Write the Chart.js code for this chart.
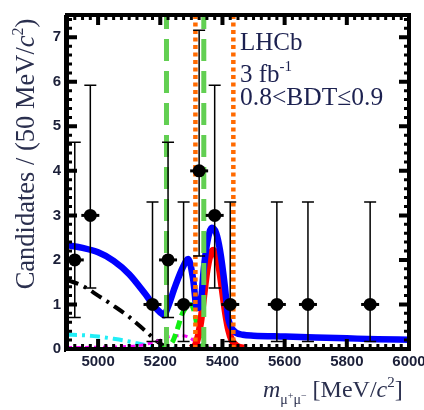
<!DOCTYPE html>
<html>
<head>
<meta charset="utf-8">
<script src="https://cdn.jsdelivr.net/npm/chart.js@4.4.0/dist/chart.umd.min.js"></script>
<style>
  html, body { margin: 0; padding: 0; background: #fff; }
  #wrap { width: 424px; height: 410px; }
</style>
</head>
<body>
<div id="wrap"><canvas id="massChart" width="424" height="410"></canvas></div>
<script>
// ------------------------------- Data -------------------------------------
const xRange = [4900, 6000];
const yRange = [0, 7.5];
const xTickValues = [5000, 5200, 5400, 5600, 5800, 6000];
const yTickValues = [0, 1, 2, 3, 4, 5, 6, 7];

// Data points (50 MeV bins) with Poisson errors
const binCenters = [4925, 4975, 5175, 5225, 5275, 5325, 5375, 5425, 5575, 5675, 5875];
const binCounts = [2, 3, 1, 2, 1, 4, 3, 1, 1, 1, 1];
const errLow = [0.71, 1.37, 0.17, 0.71, 0.17, 2.09, 1.37, 0.17, 0.17, 0.17, 0.17];
const errHigh = [4.64, 5.92, 3.30, 4.64, 3.30, 7.16, 5.92, 3.30, 3.30, 3.30, 3.30];

// Total fit (blue)
const fitMass = [4900, 4950, 5000, 5050, 5100, 5150, 5180, 5200, 5212, 5225, 5247, 5273, 5290,
  5305, 5318, 5328, 5340, 5350, 5366, 5380, 5392, 5408, 5418, 5434, 5466, 5500, 5600, 5700,
  5800, 5900, 6000];
const fitTotal = [2.33, 2.27, 2.17, 1.98, 1.68, 1.25, 0.97, 0.82, 0.76, 0.95, 1.39, 1.84, 2.02,
  1.6, 0.92, 0.95, 1.8, 2.35, 2.72, 2.6, 2.22, 1.39, 0.72, 0.43, 0.32, 0.3, 0.28, 0.26,
  0.24, 0.22, 0.21];

// Bs signal (red)
const bsMass = [5300, 5315, 5330, 5340, 5350, 5360, 5370, 5380, 5390, 5400, 5410, 5420, 5430, 5445, 5470];
const bsSignal = [0.02, 0.12, 0.6, 1.2, 1.75, 2.1, 2.22, 2.12, 1.8, 1.3, 0.8, 0.42, 0.2, 0.07, 0.02];

// B0 signal (green dashed)
const b0Mass = [5200, 5220, 5240, 5255, 5270, 5285, 5298, 5310, 5320, 5330, 5345, 5360];
const b0Signal = [0.01, 0.04, 0.17, 0.45, 0.78, 0.95, 1.0, 0.82, 0.45, 0.17, 0.04, 0.01];

// Peaking background (magenta dashed)
const hhMass = [4900, 5000, 5100, 5150, 5200, 5230, 5260, 5290, 5310, 5330, 5350, 5400, 5450];
const hhBkg = [0.03, 0.04, 0.06, 0.1, 0.2, 0.28, 0.3, 0.27, 0.18, 0.08, 0.03, 0.01, 0];

// Semileptonic background (cyan dash-dot)
const slMass = [4900, 4950, 5000, 5050, 5100, 5150, 5200, 5250];
const slBkg = [0.32, 0.31, 0.28, 0.23, 0.17, 0.09, 0.03, 0.01];

// Partially reconstructed background (black dash-dot)
const prMass = [4900, 4950, 5000, 5050, 5100, 5150, 5200, 5230];
const prBkg = [1.55, 1.42, 1.2, 0.97, 0.72, 0.42, 0.12, 0.02];

// Signal windows
const b0Window = [5220, 5340];
const bsWindow = [5313, 5435];

// ----------------------------- Utilities ----------------------------------
function toXY(xs, ys) {
  return xs.map((x, i) => ({ x, y: ys[i] }));
}
function vline(x) {
  return [{ x, y: yRange[0] }, { x, y: yRange[1] }];
}

const SERIF = '"Liberation Serif", "Times New Roman", serif';
const SANS = '"Liberation Sans", Arial, sans-serif';
const TXT = '#1c2150';

// draw a run of text pieces: { t, size, style, dy }
function drawRich(ctx, parts, x, y, align) {
  const fontOf = (p) => `${p.style || ''} ${p.size}px ${SERIF}`;
  let w = 0;
  parts.forEach((p) => { ctx.font = fontOf(p); w += ctx.measureText(p.t).width; });
  let cx = align === 'center' ? x - w / 2 : x;
  ctx.textAlign = 'left';
  ctx.textBaseline = 'alphabetic';
  parts.forEach((p) => {
    ctx.font = fontOf(p);
    ctx.fillText(p.t, cx, y + (p.dy || 0));
    cx += ctx.measureText(p.t).width;
  });
}

// ------------------------------ Plugin ------------------------------------
const rootStyle = {
  id: 'rootStyle',
  afterDatasetsDraw(chart) {
    const { ctx, scales: { x, y } } = chart;
    ctx.save();
    ctx.strokeStyle = '#000';
    ctx.lineWidth = 1.5;
    binCenters.forEach((m, i) => {
      const px = x.getPixelForValue(m);
      const pyLo = y.getPixelForValue(errLow[i]);
      const pyHi = y.getPixelForValue(errHigh[i]);
      const py = y.getPixelForValue(binCounts[i]);
      ctx.beginPath();
      ctx.moveTo(px, pyLo); ctx.lineTo(px, pyHi);
      ctx.moveTo(px - 6, pyLo); ctx.lineTo(px + 6, pyLo);
      ctx.moveTo(px - 6, pyHi); ctx.lineTo(px + 6, pyHi);
      ctx.stroke();
      ctx.lineWidth = 3;
      ctx.beginPath();
      ctx.moveTo(px - 9, py); ctx.lineTo(px + 9, py);
      ctx.stroke();
      ctx.lineWidth = 1.5;
    });
    ctx.restore();
  },
  afterDraw(chart) {
    const { ctx, chartArea: a, scales: { x, y } } = chart;
    ctx.save();
    ctx.strokeStyle = '#000';
    ctx.fillStyle = '#000';

    // inner ticks, x axis
    for (let m = xRange[0]; m <= xRange[1]; m += 25) {
      const px = x.getPixelForValue(m);
      const major = m % 200 === 0;
      const len = major ? 10 : 5;
      ctx.lineWidth = major ? 4 : 3;
      ctx.beginPath();
      ctx.moveTo(px, a.bottom); ctx.lineTo(px, a.bottom - len);
      ctx.moveTo(px, a.top); ctx.lineTo(px, a.top + len);
      ctx.stroke();
    }
    // inner ticks, y axis
    for (let k = 0; k <= 37; k++) {
      const v = k * 0.2;
      const py = y.getPixelForValue(v);
      const major = k % 5 === 0;
      const len = major ? 10 : 5;
      ctx.lineWidth = major ? 4 : 3;
      ctx.beginPath();
      ctx.moveTo(a.left, py); ctx.lineTo(a.left + len, py);
      ctx.moveTo(a.right, py); ctx.lineTo(a.right - len, py);
      ctx.stroke();
    }
    // frame
    ctx.lineWidth = 4;
    ctx.strokeRect(a.left, a.top, a.right - a.left, a.bottom - a.top);
    ctx.lineWidth = 2;
    ctx.beginPath();
    ctx.moveTo(a.left - 2, a.top); ctx.lineTo(a.left - 2, a.bottom + 3);
    ctx.stroke();

    // labels
    ctx.fillStyle = TXT;
    drawRich(ctx, [{ t: 'LHCb', size: 25 }], 240, 50);
    drawRich(ctx, [{ t: '3 fb', size: 25 }, { t: '-1', size: 15, dy: -11 }], 240, 82);
    drawRich(ctx, [{ t: '0.8<BDT\u22640.9', size: 25.5 }], 240, 105);

    // x title
    ctx.fillStyle = '#2a2f4e';
    drawRich(ctx, [
      { t: 'm', size: 24, style: 'italic' },
      { t: '\u03bc', size: 14, dy: 7 },
      { t: '+', size: 10, dy: 2 },
      { t: '\u03bc', size: 14, dy: 7 },
      { t: '\u2212', size: 10, dy: 2 },
      { t: ' [MeV/', size: 24 },
      { t: 'c', size: 24, style: 'italic' },
      { t: '2', size: 15, dy: -10 },
      { t: ']', size: 24 },
    ], 263, 397);

    // y title
    ctx.translate(34, 154);
    ctx.rotate(-Math.PI / 2);
    drawRich(ctx, [
      { t: 'Candidates / (50 MeV/', size: 26.5 },
      { t: 'c', size: 26.5, style: 'italic' },
      { t: '2', size: 16, dy: -11 },
      { t: ')', size: 26.5 },
    ], 0, 0, 'center');
    ctx.restore();
  },
};

// --------------------------- Chart --------------------------------
const lineBase = { pointRadius: 0, fill: false, cubicInterpolationMode: 'monotone' };

new Chart(document.getElementById('massChart').getContext('2d'), {
  type: 'line',
  data: {
    datasets: [
      { ...lineBase, label: 'semileptonic', data: toXY(slMass, slBkg), borderColor: '#22eef6',
        borderWidth: 4, borderDash: [10, 5, 3, 5], order: 9 },
      { ...lineBase, label: 'partially reco', data: toXY(prMass, prBkg), borderColor: '#000',
        borderWidth: 4, borderDash: [12, 6, 3, 6], order: 8 },
      { ...lineBase, label: 'hh', data: toXY(hhMass, hhBkg), borderColor: '#ff00ff',
        borderWidth: 3, borderDash: [5, 4], order: 7 },
      { ...lineBase, label: 'B0', data: toXY(b0Mass, b0Signal), borderColor: '#11ee11',
        borderWidth: 5, borderDash: [9, 5], order: 6 },
      { ...lineBase, label: 'Bs', data: toXY(bsMass, bsSignal), borderColor: '#ff0000',
        borderWidth: 7, order: 5 },
      { ...lineBase, label: 'total', data: toXY(fitMass, fitTotal), borderColor: '#0000ff',
        borderWidth: 6.5, order: 4 },
      { label: 'B0 lo', data: vline(b0Window[0]), borderColor: '#62cf52', borderWidth: 5,
        borderDash: [22, 10], pointRadius: 0, order: 3 },
      { label: 'B0 hi', data: vline(b0Window[1]), borderColor: '#62cf52', borderWidth: 5,
        borderDash: [22, 10], pointRadius: 0, order: 3 },
      { label: 'Bs lo', data: vline(bsWindow[0]), borderColor: '#ff6a00', borderWidth: 4.5,
        borderDash: [4, 3.5], pointRadius: 0, order: 2 },
      { label: 'Bs hi', data: vline(bsWindow[1]), borderColor: '#ff6a00', borderWidth: 4.5,
        borderDash: [4, 3.5], pointRadius: 0, order: 2 },
      { label: 'data', data: toXY(binCenters, binCounts), showLine: false, pointRadius: 6.5,
        pointBackgroundColor: '#000', pointBorderWidth: 0, order: 1 },
    ],
  },
  options: {
    responsive: false,
    animation: false,
    devicePixelRatio: 1,
    layout: { padding: { left: 0, right: 15, top: 15, bottom: 0 } },
    plugins: { legend: { display: false }, tooltip: { enabled: false } },
    scales: {
      x: {
        type: 'linear',
        min: xRange[0],
        max: xRange[1],
        grid: { display: false, drawTicks: false },
        border: { display: false },
        ticks: {
          padding: 4, color: '#1b1f38', maxRotation: 0, autoSkip: false,
          font: { family: SANS, size: 15, weight: 'bold' },
          callback: (v) => String(v),
        },
        afterBuildTicks: (s) => { s.ticks = xTickValues.map((v) => ({ value: v })); },
        afterFit: (s) => { s.height = 61; s.paddingLeft = 0; s.paddingRight = 0; },
      },
      y: {
        type: 'linear',
        min: yRange[0],
        max: yRange[1],
        grid: { display: false, drawTicks: false },
        border: { display: false },
        ticks: {
          padding: 6, color: '#1b1f38', autoSkip: false,
          font: { family: SANS, size: 15, weight: 'bold' },
          callback: (v) => String(v),
        },
        afterBuildTicks: (s) => { s.ticks = yTickValues.map((v) => ({ value: v })); },
        afterFit: (s) => { s.width = 67; s.paddingTop = 0; s.paddingBottom = 0; },
      },
    },
  },
  plugins: [rootStyle],
});
</script>
</body>
</html>
